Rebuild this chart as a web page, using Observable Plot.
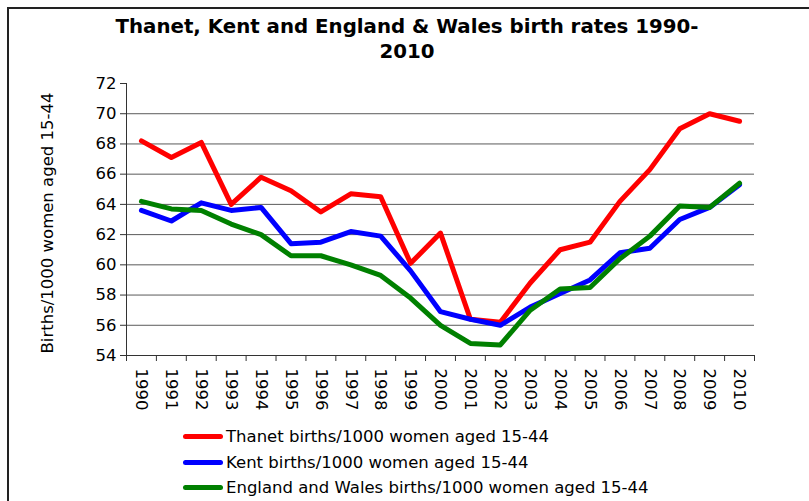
<!DOCTYPE html>
<html>
<head>
<meta charset="utf-8">
<script src="https://cdn.jsdelivr.net/npm/d3@7"></script>
<script src="https://cdn.jsdelivr.net/npm/@observablehq/plot@0.6"></script>
<style>
  html, body { margin: 0; padding: 0; background: #fff; overflow: hidden; }
  #wrap { position: relative; width: 809px; height: 501px; font-family: "DejaVu Sans", Verdana, sans-serif; color: #000; }
  #frame { position: absolute; left: 7px; top: 7px; width: 900px; height: 600px; border-left: 2px solid #222; border-top: 2px solid #222; }
  #title { position: absolute; left: 8px; width: 798px; top: 14px; text-align: center; font-weight: bold; font-size: 19.8px; line-height: 25px; }
  #chart { position: absolute; left: 0; top: 0; }
  #ylabel { position: absolute; left: 46.5px; top: 223px; font-size: 16.5px; white-space: nowrap; transform: translate(-50%, -50%) rotate(-90deg); }
  #legend { position: absolute; left: 183px; top: 424px; font-size: 16.5px; }
  .row { display: flex; align-items: center; height: 25.5px; line-height: 25.5px; white-space: nowrap; }
  .sw { width: 40px; height: 5px; border-radius: 3px; margin-right: 3px; }
</style>
</head>
<body>
<div id="wrap">
  <div id="frame"></div>
  <div id="chart"></div>
  <div id="title"></div>
  <div id="ylabel"></div>
  <div id="legend"></div>
</div>
<script>
const titleLines = ["Thanet, Kent and England & Wales birth rates 1990-", "2010"];
const yLabel = "Births/1000 women aged 15-44";
const years = [1990, 1991, 1992, 1993, 1994, 1995, 1996, 1997, 1998, 1999, 2000, 2001, 2002, 2003, 2004, 2005, 2006, 2007, 2008, 2009, 2010];
const thanet = [68.2, 67.1, 68.1, 64.0, 65.8, 64.9, 63.5, 64.7, 64.5, 60.1, 62.1, 56.4, 56.2, 58.8, 61.0, 61.5, 64.2, 66.3, 69.0, 70.0, 69.5];
const kent = [63.6, 62.9, 64.1, 63.6, 63.8, 61.4, 61.5, 62.2, 61.9, 59.6, 56.9, 56.4, 56.0, 57.2, 58.1, 59.0, 60.8, 61.1, 63.0, 63.8, 65.3];
const englandWales = [64.2, 63.7, 63.6, 62.7, 62.0, 60.6, 60.6, 60.0, 59.3, 57.8, 56.0, 54.8, 54.7, 57.0, 58.4, 58.5, 60.4, 61.9, 63.9, 63.8, 65.4];
const yTicks = [54, 56, 58, 60, 62, 64, 66, 68, 70, 72];
const gridValues = [56, 58, 60, 62, 64, 66, 68, 70];
const seriesNames = ["Thanet births/1000 women aged 15-44", "Kent births/1000 women aged 15-44", "England and Wales births/1000 women aged 15-44"];
const seriesColors = ["#ff0000", "#0000ff", "#008000"];
const seriesValues = [thanet, kent, englandWales];

// category boundaries (tick marks sit between categories)
const boundaries = [years[0] - 0.5, ...years.map(y => y + 0.5)];

const lineMarks = seriesValues.map((vals, s) =>
  Plot.line(years, {
    x: d => d,
    y: (d, i) => vals[i],
    stroke: seriesColors[s],
    strokeWidth: 5,
    strokeLinecap: "round",
    strokeLinejoin: "round"
  })
);

const chart = Plot.plot({
  width: 809,
  height: 420,
  marginLeft: 126,
  marginRight: 55,
  marginTop: 83,
  marginBottom: 65,
  style: { fontFamily: "DejaVu Sans, Verdana, sans-serif", fontSize: "16.5px", color: "#000", background: "transparent", overflow: "visible" },
  x: { domain: [boundaries[0], boundaries[boundaries.length - 1]] },
  y: { domain: [54, 72] },
  marks: [
    Plot.ruleY(gridValues, { stroke: "#5a5a5a", strokeWidth: 1 }),
    Plot.axisY(yTicks, { tickSize: 6, tickPadding: 4, fontSize: 16.5, label: null, stroke: "#333" }),
    Plot.axisX(boundaries, { tickSize: 6, tickFormat: () => "", label: null, stroke: "#333" }),
    Plot.axisX(years, { tickSize: 0, tickPadding: 13, tickRotate: 90, tickFormat: d => String(d), fontSize: 16.5, label: null }),
    Plot.ruleX([boundaries[0]], { stroke: "#333", strokeWidth: 1 }),
    Plot.ruleY([54], { stroke: "#333", strokeWidth: 1 }),
    ...lineMarks
  ]
});
document.getElementById("chart").appendChild(chart);

document.getElementById("title").innerHTML = titleLines.map(t => `<div>${t.replace(/&/g, "&amp;")}</div>`).join("");
document.getElementById("ylabel").textContent = yLabel;

const legend = document.getElementById("legend");
seriesNames.forEach((name, i) => {
  const row = document.createElement("div");
  row.className = "row";
  const sw = document.createElement("div");
  sw.className = "sw";
  sw.style.background = seriesColors[i];
  const label = document.createElement("span");
  label.textContent = name;
  row.appendChild(sw);
  row.appendChild(label);
  legend.appendChild(row);
});
</script>
</body>
</html>
